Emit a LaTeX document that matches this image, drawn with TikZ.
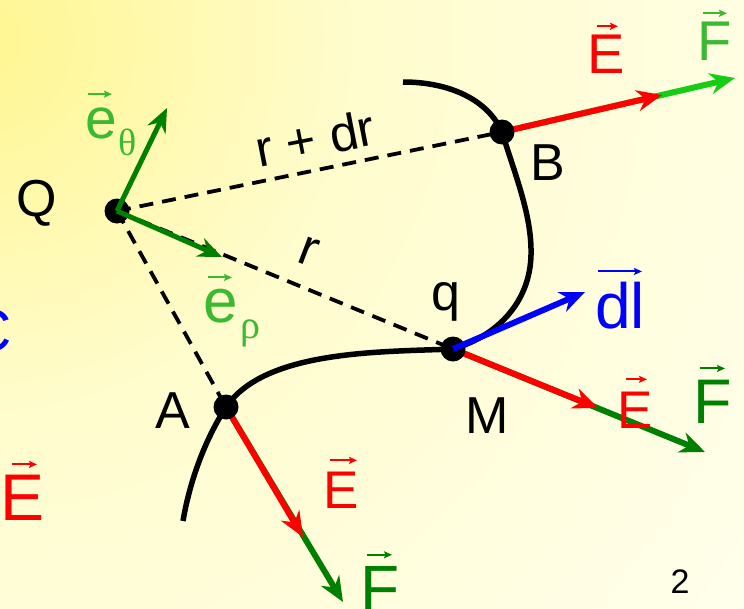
\documentclass[tikz,border=0pt]{standalone}
\usepackage{fontspec}
\setmainfont{Liberation Sans}
\newfontfamily\grk{Liberation Serif}
\usetikzlibrary{arrows.meta,calc}
\definecolor{dkgreen}{RGB}{0,128,0}
\definecolor{ltgreen}{RGB}{60,185,50}
\definecolor{brgreen}{RGB}{20,205,20}
\definecolor{myred}{RGB}{255,0,0}
\definecolor{myblue}{RGB}{0,0,255}
\definecolor{bgyellow}{RGB}{255,246,145}
\definecolor{bgmid}{RGB}{255,252,205}
\definecolor{bgcream}{RGB}{255,255,236}
\pgfdeclareradialshading{bgshade}{\pgfpoint{0bp}{0bp}}{color(0bp)=(bgyellow); color(9bp)=(bgmid); color(23bp)=(bgcream); color(50bp)=(bgcream)}
\newcommand{\fs}[1]{\fontsize{#1}{#1}\selectfont}
\newcommand{\overarr}[5]{\draw[varr,#2] ($(#1.north)+(#3,#5)$) -- ($(#1.north)+(#4,#5)$);}
\tikzset{
  lbl/.style={inner sep=0pt,anchor=base,font=\fs{52}},
  big/.style={line width=6pt,-{Stealth[length=25pt,width=21pt,inset=8pt]}},
  unitv/.style={line width=5pt,dkgreen,-{Stealth[length=24pt,width=20pt,inset=8pt]}},
  dsh/.style={line width=3.8pt,dash pattern=on 14pt off 9pt},
  curv/.style={line width=5.5pt,line cap=butt},
  dotn/.style={circle,fill=black,inner sep=0pt,minimum size=25pt},
  varr/.style={line width=2pt,-{Stealth[length=8pt,width=7pt,inset=1.5pt]}}
}
\begin{document}
\begin{tikzpicture}[x=1pt,y=-1pt]
\useasboundingbox (0,0) rectangle (744,608);
\begin{scope}
  \clip (0,0) rectangle (744,608);
  \shade[shading=bgshade] (-20,40) circle[radius=1040pt];
\end{scope}

% points
\coordinate (Q) at (117,211);
\coordinate (A) at (226,407);
\coordinate (Mp) at (453,349);
\coordinate (Bp) at (502,132);
\coordinate (c0) at (403,82);
\coordinate (c1) at (531,255);
\coordinate (c2) at (183,521);
\coordinate (eT) at (167,108);
\coordinate (eR) at (222,257);
\coordinate (AE) at (303,537);
\coordinate (AF) at (343,602);
\coordinate (ME) at (598,408);
\coordinate (MF) at (705,452);
\coordinate (Mdl) at (585,292);
\coordinate (BE) at (662,95);
\coordinate (BF) at (735,78);

% dashed radii
\draw[dsh] (Q) -- (Bp);
\draw[dsh] (Q) -- (Mp);
\draw[dsh] (Q) -- (A);

% curve
\draw[curv] (c0) .. controls (450,82) and (488,100) .. (Bp)
  .. controls (515,175) and (532,215) .. (c1)
  .. controls (530,300) and (500,335) .. (Mp);
\draw[curv] (Mp) .. controls (380,352) and (265,350) .. (A)
  .. controls (205,440) and (190,480) .. (c2);

% field and force arrows
\draw[big,dkgreen] (A) -- (AF);
\draw[big,myred] (A) -- (AE);
\draw[big,dkgreen] (Mp) -- (MF);
\draw[big,myred] (Mp) -- (ME);
\draw[big,brgreen] (Bp) -- (BF);
\draw[big,myred] (Bp) -- (BE);

% dots
\node[dotn] (dQ) at (Q) {};
\node[dotn] (dA) at (A) {};
\node[dotn] (dM) at (Mp) {};
\node[dotn] (dB) at (Bp) {};

\draw[big,myblue] (dM.center) -- (Mdl);
\draw[unitv] (dQ.center) -- (eT);
\draw[unitv] (dQ.center) -- (eR);

% black labels
\node[lbl] (lQ) at (37,216) {Q};
\node[lbl] (lA) at (173,428) {A};
\node[lbl] (lB) at (548,180) {B};
\node[lbl] (lM) at (487,433) {M};
\node[lbl] (lq) at (446,310) {q};
\node[inner sep=0pt,font=\fs{51},rotate=11] (lrdr) at (315,138) {r + dr};
\node[inner sep=0pt,font=\fs{52},rotate=-21] (lr) at (309,252) {r};
\node[lbl,font=\fs{34}] (l2) at (680,593) {2};
\node[inner sep=0pt,anchor=base east,font=\fs{60},text=myblue] (lC) at (12,351) {C};

% coloured vector labels
\node[lbl,font=\fs{66},text=myred] (Ebl) at (23,520) {E};
\overarr{Ebl}{myred}{-11}{14}{-10}
\node[lbl,font=\fs{53},text=myred] (EA) at (341,508) {E};
\overarr{EA}{myred}{-11}{16}{-11}
\node[lbl,font=\fs{64},text=dkgreen] (FA) at (380,610) {F};
\overarr{FA}{dkgreen}{-13}{12}{-11}
\node[lbl,font=\fs{53},text=myred] (EM) at (635,428) {E};
\overarr{EM}{myred}{-9}{12}{-12}
\node[lbl,font=\fs{63},text=dkgreen] (FM) at (713,423) {F};
\overarr{FM}{dkgreen}{-13}{12}{-11}
\node[lbl,font=\fs{64},text=myblue] (dl) at (620,328) {dl};
\overarr{dl}{myblue}{-22}{22}{-10}
\node[lbl,font=\fs{56},text=myred] (EB) at (606,73) {E};
\overarr{EB}{myred}{-9}{12}{-8}
\node[lbl,font=\fs{56},text=ltgreen] (FB) at (715,60) {F};
\overarr{FB}{ltgreen}{-12}{12}{-8}
\node[lbl,font=\fs{57},text=ltgreen] (et) at (101,138) {e};
\overarr{et}{ltgreen}{-13}{11}{-13}
\node[lbl,font=\grk\fs{38},text=ltgreen] (th) at (128,155) {θ};
\node[lbl,font=\fs{62},text=ltgreen] (er) at (221,322) {e};
\overarr{er}{ltgreen}{-13}{11}{-11}
\node[lbl,font=\grk\fs{40},text=ltgreen] (rh) at (250,338) {ρ};
\end{tikzpicture}
\end{document}
